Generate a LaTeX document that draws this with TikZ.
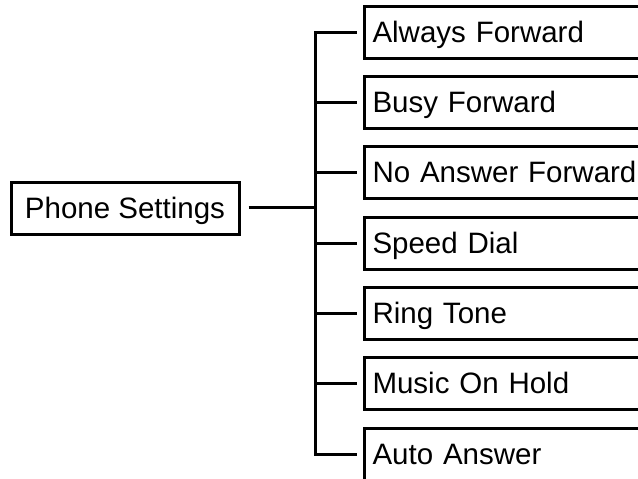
\documentclass[tikz,border=0pt]{standalone}
\usepackage{fontspec}
\setmainfont{Liberation Sans}
\begin{document}
\begin{tikzpicture}[x=1pt,y=-1pt,line width=3pt,
  box/.style={draw, font=\fontsize{29.5}{36}\selectfont, minimum height=52pt,
    inner xsep=8.5pt, inner ysep=0pt, text height=24pt, text depth=5pt},
  item/.style={box, anchor=west, text width=300pt, align=left},
  wire/.style={line cap=butt}]
\clip (0,0) rectangle (638,479);
\node[box, anchor=west, minimum width=228pt] (ps) at (9.5,208.5) {Phone Settings};
\node[item] (a0) at (362.5,32.5) {Always Forward};
\node[item] (a1) at (362.5,102.5) {Busy Forward};
\node[item] (a2) at (362.5,172.5) {No Answer Forward};
\node[item] (a3) at (362.5,243.5) {Speed Dial};
\node[item] (a4) at (362.5,313.5) {Ring Tone};
\node[item] (a5) at (362.5,383.5) {Music On Hold};
\node[item] (a6) at (362.5,454.5) {Auto Answer};
\coordinate (bx) at (315.5,243.5);
\coordinate (j) at (315.5,207.5);
\draw[wire] ([xshift=8pt]ps.east |- j) -- (j);
\draw[wire] ([xshift=-6pt]a0.west) -| (bx) |- ([xshift=-6pt]a6.west);
\foreach \i in {1,...,5} {
  \draw[wire] (bx |- a\i.west) -- ([xshift=-6pt]a\i.west);
}
\end{tikzpicture}
\end{document}
